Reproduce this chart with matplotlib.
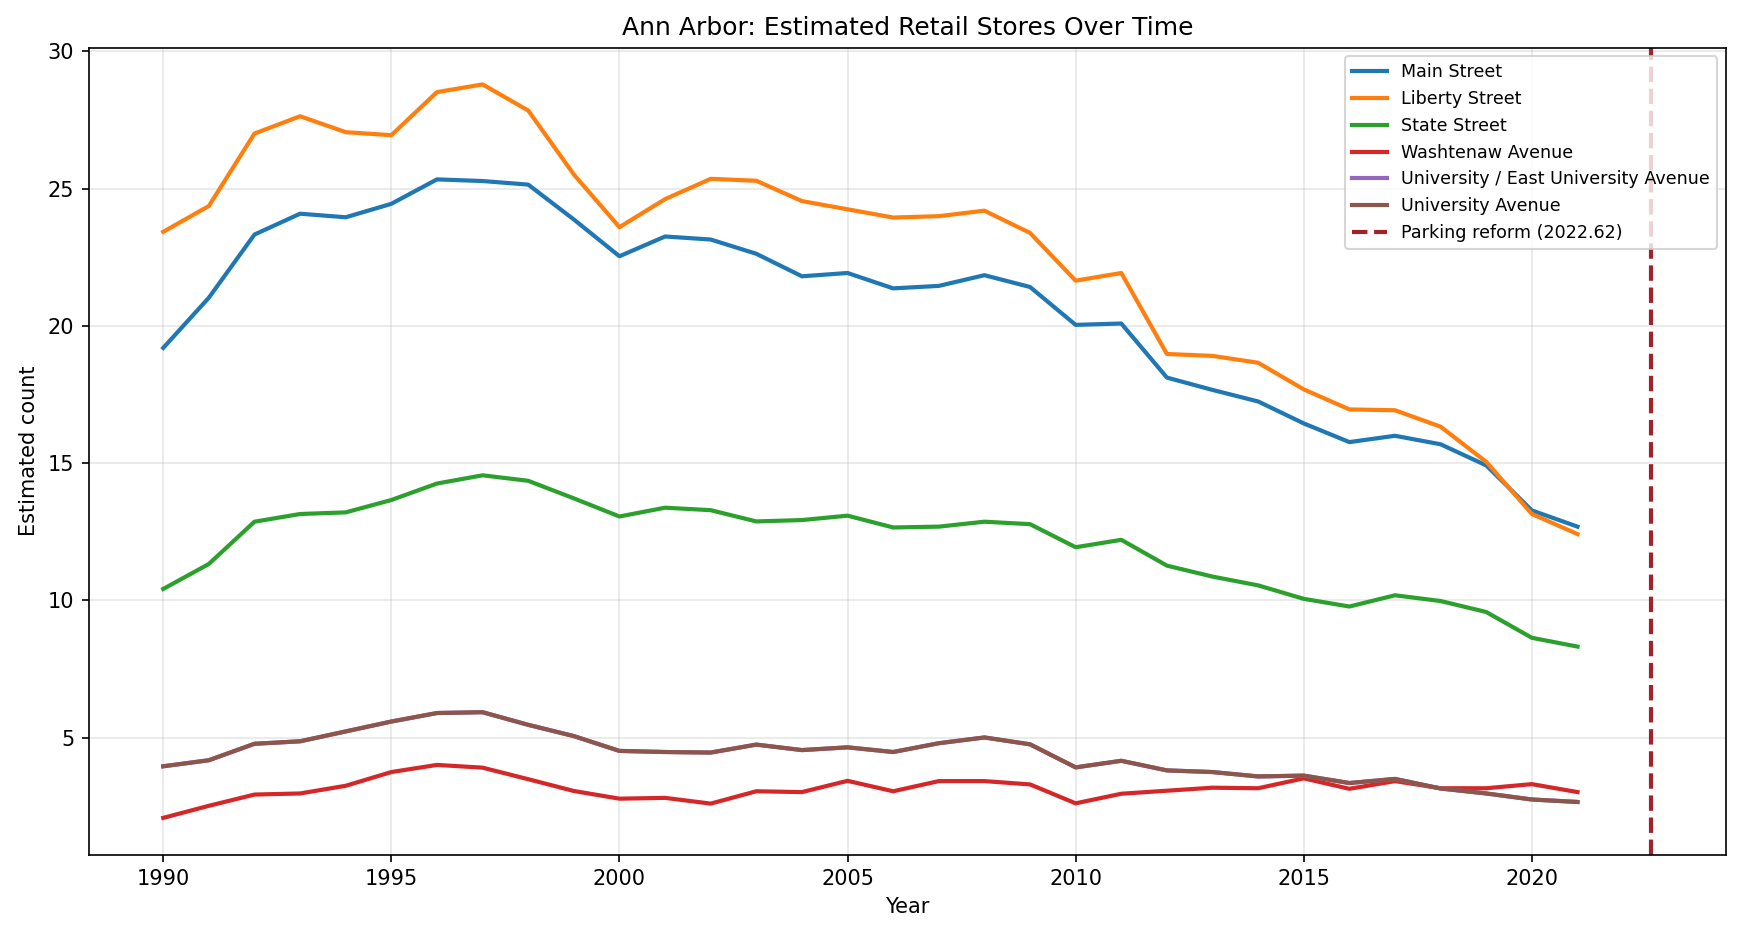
import numpy as np
import matplotlib
matplotlib.use("Agg")
import matplotlib.pyplot as plt

years = np.arange(1990, 2022)

main_street = [19.2, 21.03, 23.33, 24.09, 23.96, 24.45, 25.34, 25.28, 25.15, 23.88,
               22.54, 23.26, 23.15, 22.63, 21.81, 21.93, 21.37, 21.46, 21.85, 21.42,
               20.04, 20.09, 18.12, 17.67, 17.25, 16.45, 15.77, 16.0, 15.69, 14.92,
               13.28, 12.69]
liberty_street = [23.43, 24.37, 27.01, 27.64, 27.06, 26.95, 28.52, 28.8, 27.85, 25.52,
                  23.6, 24.62, 25.36, 25.29, 24.55, 24.25, 23.95, 24.0, 24.2, 23.39,
                  21.65, 21.93, 18.98, 18.91, 18.66, 17.69, 16.96, 16.93, 16.33, 15.05,
                  13.15, 12.42]
state_street = [10.42, 11.33, 12.87, 13.15, 13.21, 13.66, 14.26, 14.56, 14.36, 13.72,
                13.06, 13.38, 13.29, 12.88, 12.93, 13.09, 12.66, 12.69, 12.87, 12.78,
                11.94, 12.21, 11.27, 10.87, 10.55, 10.06, 9.78, 10.19, 9.98, 9.58,
                8.64, 8.32]
washtenaw_avenue = [2.08, 2.52, 2.93, 2.97, 3.25, 3.75, 4.01, 3.91, 3.49, 3.06,
                    2.78, 2.81, 2.6, 3.05, 3.02, 3.43, 3.05, 3.42, 3.42, 3.3,
                    2.61, 2.96, 3.07, 3.18, 3.16, 3.52, 3.14, 3.42, 3.16, 3.16,
                    3.31, 3.02]
university_avenue = [3.96, 4.18, 4.78, 4.87, 5.23, 5.59, 5.9, 5.93, 5.47, 5.06,
                     4.52, 4.48, 4.46, 4.75, 4.55, 4.65, 4.48, 4.8, 5.01, 4.76,
                     3.92, 4.16, 3.81, 3.75, 3.59, 3.62, 3.35, 3.5, 3.15, 2.97,
                     2.75, 2.66]
# hidden under University Avenue in the reference
university_east = list(university_avenue)

reform_year = 2022.62

fig, ax = plt.subplots(figsize=(11.61, 6.24), dpi=150)
fig.subplots_adjust(left=0.051, right=0.991, top=0.949, bottom=0.087)

ax.plot(years, main_street, color="#1f77b4", lw=2, label="Main Street")
ax.plot(years, liberty_street, color="#ff7f0e", lw=2, label="Liberty Street")
ax.plot(years, state_street, color="#2ca02c", lw=2, label="State Street")
ax.plot(years, washtenaw_avenue, color="#d62728", lw=2, label="Washtenaw Avenue")
ax.plot(years, university_east, color="#9467bd", lw=2, label="University / East University Avenue")
ax.plot(years, university_avenue, color="#8c564b", lw=2, label="University Avenue")
ax.axvline(reform_year, color="#a0222a", ls="--", lw=2,
           label=f"Parking reform ({reform_year:.2f})")

ax.set_title("Ann Arbor: Estimated Retail Stores Over Time", fontsize=12)
ax.set_xlabel("Year")
ax.set_ylabel("Estimated count")
ax.grid(True, alpha=0.3)
ax.legend(loc="upper right", fontsize=8.4)

fig.savefig("out.png", dpi=150)
